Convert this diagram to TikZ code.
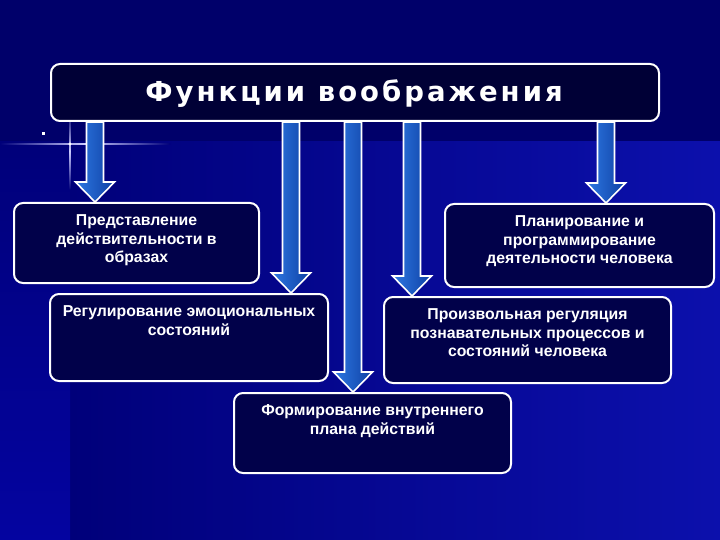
\documentclass[tikz,border=0pt]{standalone}
\usepackage{fontspec}
\setmainfont{Liberation Sans}
\newfontfamily\titlefont{DejaVu Sans}[LetterSpace=11]
\usetikzlibrary{calc}
\definecolor{bgtop}{HTML}{00006A}
\definecolor{bgleft}{HTML}{0404A0}
\definecolor{bgL}{HTML}{00007A}
\definecolor{bgR}{HTML}{0C10AC}
\definecolor{boxfill}{HTML}{01014A}
\definecolor{titlefill}{HTML}{000036}
\definecolor{arrL}{HTML}{2E78E2}
\definecolor{arrR}{HTML}{0E40A4}
\newcommand\blockarr[2]{%
  \path[blockarrow] let \p1=(#1), \p2=(#2) in
    (\x1-8.5pt,\y1) -- (\x1+8.5pt,\y1) -- (\x1+8.5pt,\y2+20pt) -- (\x1+19.5pt,\y2+20pt)
    -- (\x1,\y2) -- (\x1-19.5pt,\y2+20pt) -- (\x1-8.5pt,\y2+20pt) -- cycle;}
\begin{document}
\begin{tikzpicture}[x=1pt,y=-1pt,
  box/.style={draw=white, line width=2pt, rounded corners=9pt, fill=boxfill, anchor=north west, inner sep=0pt},
  boxtext/.style={text=white, font=\bfseries\fontsize{15.8}{18.5}\selectfont, align=center, inner sep=0pt, anchor=north},
  blockarrow/.style={draw=white, line width=1.6pt, left color=arrL, right color=arrR, line join=miter},
  titlebox/.style={draw=white, line width=2pt, rounded corners=9pt, fill=titlefill, anchor=north west, inner sep=0pt,
    minimum width=608pt, minimum height=57pt}]
\useasboundingbox (0,0) rectangle (720,540);
% background
\fill[bgtop] (0,0) rectangle (720,142);
\shade[left color=bgL, right color=bgR] (70,142) rectangle (720,540);
\shade[top color=bgL, bottom color=bgleft] (0,142) rectangle (70,540);
% sparkle
\shade[left color=bgL, right color=bgL, middle color=white!80!blue] (0,143.3) rectangle (170,144.7);
\shade[top color=bgtop, bottom color=bgL, middle color=white!80!blue] (69.3,112) rectangle (70.7,190);
\fill[white] (70,144) circle (1.6);
\fill[white] (41.5,132.5) rectangle (44.5,135.5);
% boxes
\node[box, minimum width=245pt, minimum height=80pt] (b1) at (13,202) {};
\node[box, minimum width=278pt, minimum height=87pt] (b2) at (49,293) {};
\node[box, minimum width=277pt, minimum height=80pt] (b3) at (233,392) {};
\node[box, minimum width=287pt, minimum height=86pt] (b4) at (383,296) {};
\node[box, minimum width=269pt, minimum height=83pt] (b5) at (444,203) {};
\node[boxtext] (t1) at ([yshift=-12.5pt]b1.north) {Представление\\действительности в\\образах};
\node[boxtext] (t2) at ([yshift=-12.5pt]b2.north) {Регулирование эмоциональных\\состояний};
\node[boxtext] (t3) at ([yshift=-12.5pt]b3.north) {Формирование внутреннего\\плана действий};
\node[boxtext] (t4) at ([yshift=-12.5pt]b4.north) {Произвольная регуляция\\познавательных процессов и\\состояний человека};
\node[boxtext] (t5) at ([yshift=-12.5pt]b5.north) {Планирование и\\программирование\\деятельности человека};
% title
\node[titlebox] (title) at (50,63) {};
\node[text=white, font=\titlefont\bfseries\fontsize{27.5}{30}\selectfont, inner sep=0pt, anchor=base] (tt) at (354,102) {Функции воображения};
% arrows
\coordinate (s1) at (95,0 |- title.south);   \coordinate (e1) at (95,0 |- b1.north);
\coordinate (s2) at (291,0 |- title.south);  \coordinate (e2) at (291,0 |- b2.north);
\coordinate (s3) at (353,0 |- title.south);  \coordinate (e3) at (353,0 |- b3.north);
\coordinate (s4) at (412,0 |- title.south);  \coordinate (e4) at (412,0 |- b4.north);
\coordinate (s5) at (606,0 |- title.south);  \coordinate (e5) at (606,0 |- b5.north);
\blockarr{s1}{e1}
\blockarr{s2}{e2}
\blockarr{s3}{e3}
\blockarr{s4}{e4}
\blockarr{s5}{e5}
\end{tikzpicture}
\end{document}
